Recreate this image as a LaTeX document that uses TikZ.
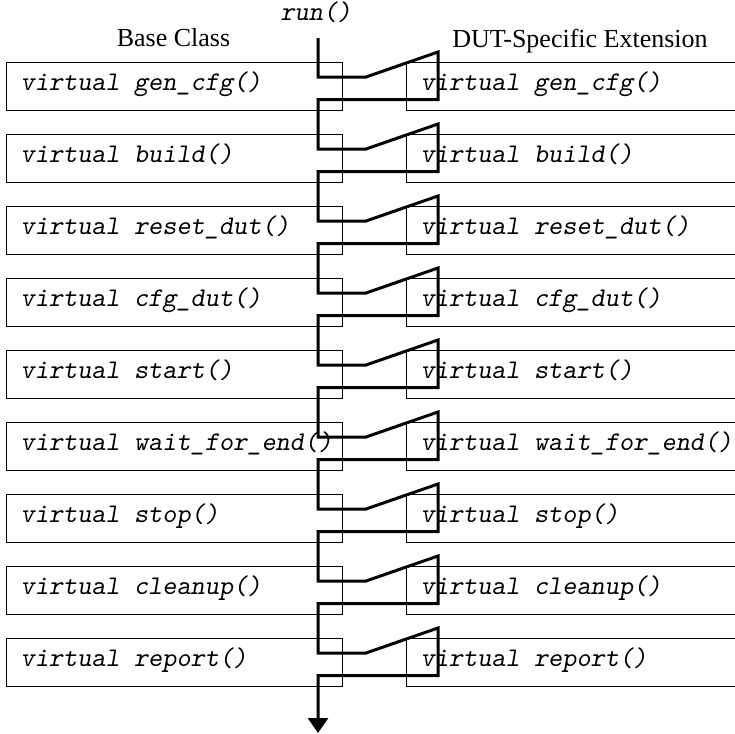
\documentclass[tikz,border=0pt]{standalone}
\usepackage{fontspec}
\setmainfont{Liberation Serif}
\newfontfamily\codefam{lmmonoslant10-regular.otf}[WordSpace={1,0,0}]
\usetikzlibrary{arrows.meta}
\newcommand{\methodpair}[2]{%
  \pgfmathsetmacro{\boxtop}{62+72*#1}
  \node[methodbox,anchor=north west] (base#1) at (5.7,\boxtop)
    {\makebox[153.85pt][l]{virtual #2()}};
  \node[methodbox,anchor=north west] (ext#1) at (405.7,\boxtop)
    {\makebox[153.85pt][l]{virtual #2()}};
}

\begin{document}
\begin{tikzpicture}[x=0.5pt,y=-0.5pt,
    methodbox/.style={draw=black,line width=0.6pt,minimum width=168.15pt,
      minimum height=24pt,inner xsep=7.15pt,inner ysep=0pt,
      text height=7.2pt,text depth=3.2pt,font=\codefont},
    headfont/.style={font=\rmfamily\fontsize{13}{15}\selectfont},
    flow/.style={line width=1.5pt}]
  \def\codefont{\codefam\fontsize{13.5}{15}\selectfont}
  \useasboundingbox (0,0) rectangle (735,734);
  \clip (0,0) rectangle (735,734);
  % headings
  \node[headfont,anchor=base] (basehead) at (173.5,46.7) {Base Class};
  \node[headfont,anchor=base] (exthead) at (580,47) {DUT-Specific Extension};
  \node[anchor=base,font=\codefont] (run) at (316,20) {run()};
  % method boxes
  \methodpair{0}{gen\_cfg}
  \methodpair{1}{build}
  \methodpair{2}{reset\_dut}
  \methodpair{3}{cfg\_dut}
  \methodpair{4}{start}
  \methodpair{5}{wait\_for\_end}
  \methodpair{6}{stop}
  \methodpair{7}{cleanup}
  \methodpair{8}{report}
  % call flow
  \coordinate (flowstart) at (318,38);
  \coordinate (flowend) at (318,733);
  \draw[flow,-{Triangle[length=7.5pt,width=10pt]}] (flowstart)
    \foreach \i in {0,...,8}{
      -- (318,{77+72*\i}) -- (366,{77+72*\i}) -- (438,{52+72*\i})
      -- (438,{99.5+72*\i}) -- (318,{99.5+72*\i})
    } -- (flowend);
\end{tikzpicture}
\end{document}
